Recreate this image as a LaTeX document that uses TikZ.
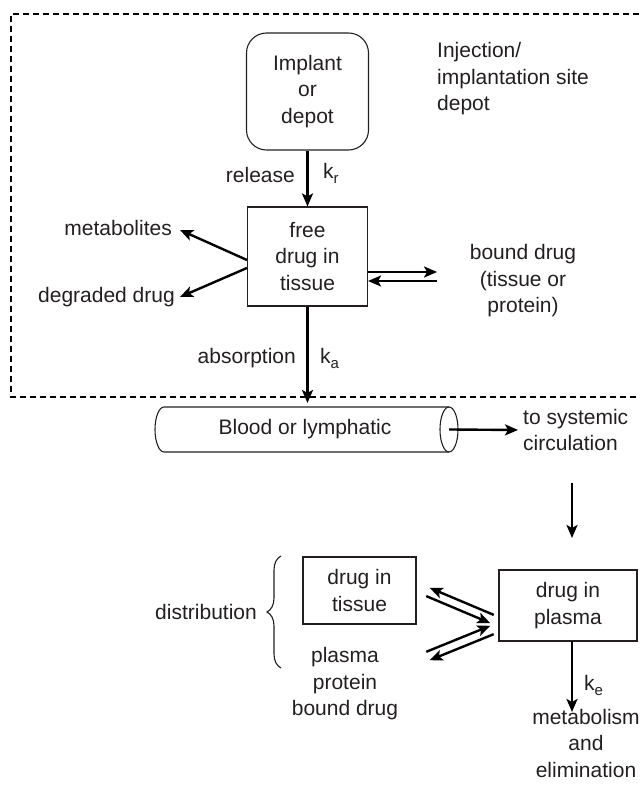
\documentclass[tikz,border=0pt]{standalone}
\usepackage{fontspec}
\setmainfont{Liberation Sans}
\usetikzlibrary{arrows.meta,decorations.pathreplacing}
\definecolor{ink}{HTML}{231F20}
\newcommand{\sbs}[1]{\raisebox{-0.45ex}{\fontsize{15}{15}\selectfont #1}}
\begin{document}
\begin{tikzpicture}[x=1pt,y=1pt,
  every node/.style={font=\fontsize{21}{26.5}\selectfont, text=ink},
  box/.style={draw=ink, line width=1.1pt, inner sep=0pt, align=center},
  lbl/.style={inner sep=0pt, align=center},
  flow/.style={draw=black, line width=2.4pt, -{Stealth[length=13pt,width=11pt,inset=3pt]}},
  frame/.style={draw=black, line width=1.4pt, dash pattern=on 6pt off 4pt},
  thin/.style={draw=ink, line width=1.1pt}]
\useasboundingbox (0,0) rectangle (639,791);

% dashed frame of the injection site
\draw[frame] (639,777) -- (11,777) -- (11,394) -- (639,394);

% nodes
\node[box, rounded corners=20pt, minimum width=122pt, minimum height=117pt] (implant) at (307.5,699.5) {Implant\\or\\depot};
\node[lbl, anchor=west, align=left] (inj) at (437,712) {Injection/\\implantation site\\depot};
\node[box, minimum width=120pt, minimum height=99pt] (free) at (307.5,534.5) {free\\drug in\\tissue};
\node[lbl, anchor=east] (rel) at (295,616) {release};
\node[lbl, anchor=west] (kr) at (323,618) {k\sbs{r}};
\node[lbl, anchor=east] (met) at (172,563) {metabolites};
\node[lbl, anchor=east] (deg) at (175,494) {degraded drug};
\node[lbl] (bound) at (523,510) {bound drug\\(tissue or\\protein)};
\node[lbl, anchor=east] (absn) at (296,433) {absorption};
\node[lbl, anchor=west] (ka) at (320,433) {k\sbs{a}};
\node[lbl] (blood) at (305,361.5) {Blood or lymphatic};
\node[lbl, anchor=west, align=left] (sys) at (523,361) {to systemic\\circulation};
\node[box, minimum width=113pt, minimum height=67pt] (tissue) at (359.5,200.5) {drug in\\tissue};
\node[box, minimum width=138pt, minimum height=71pt] (plasma) at (568,185.5) {drug in\\plasma};
\node[lbl, anchor=east] (dist) at (257,179) {distribution};
\node[lbl] (ppb) at (345,107) {plasma\\protein\\bound drug};
\node[lbl, anchor=west] (ke) at (584,106) {k\sbs{e}};
\node[lbl] (elim) at (586,48) {metabolism\\and\\elimination};

% cylinder (blood or lymphatic vessel)
\draw[thin] (449,384) -- (164,384) arc[start angle=90, end angle=270, x radius=9, y radius=22.5] -- (449,339);
\draw[thin] (449,361.5) ellipse [x radius=9, y radius=22.5];
\coordinate (cylend) at (449,361.5);

% brace
\draw[thin, decorate, decoration={brace, amplitude=14pt}] (281,123) -- (281,235);

% coordinates for free ends
\coordinate (m1) at (180,561);
\coordinate (d1) at (180,494);
\coordinate (absend) at (307.5,388);
\coordinate (down1) at (572,308);
\coordinate (down2) at (572,253);
\coordinate (ke1) at (572,150);
\coordinate (ke2) at (572,79);
\coordinate (u1a) at (493.75,176.1); \coordinate (u1b) at (429.75,203.1);
\coordinate (u2a) at (426.25,194.9); \coordinate (u2b) at (490.25,167.9);
\coordinate (l1a) at (426.3,139.2);  \coordinate (l1b) at (490.3,165.2);
\coordinate (l2a) at (493.7,156.8);  \coordinate (l2b) at (429.7,130.8);

% connectors
\draw[flow] (implant.south) -- (free.north);
\draw[flow] ([yshift=-3.5pt]free.west) -- (m1);
\draw[flow] ([yshift=-11.5pt]free.west) -- (d1);
\draw[flow] ([yshift=-15.5pt]free.east) -- ++(69,0);
\draw[flow] ([yshift=-24.5pt,xshift=69pt]free.east) -- ([yshift=-24.5pt]free.east);
\draw[flow] (free.south) -- (absend);
\draw[flow] (cylend) -- ([xshift=-5pt]sys.west);
\draw[flow] (down1) -- (down2);
\draw[flow] (u1a) -- (u1b);
\draw[flow] (u2a) -- (u2b);
\draw[flow] (l1a) -- (l1b);
\draw[flow] (l2a) -- (l2b);
\draw[flow] (ke1) -- (ke2);
\end{tikzpicture}
\end{document}
